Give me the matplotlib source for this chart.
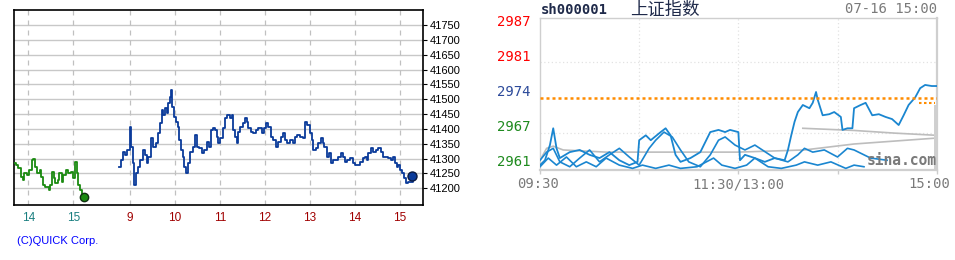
#!/usr/bin/env python3
"""
Two intraday panels: QUICK index chart (left) and sh000001 mini chart (right).
"""

import matplotlib
matplotlib.use("Agg")
import matplotlib.pyplot as plt
import matplotlib.transforms as mtransforms

# ---------------- left panel data (hours, index level) ----------------
PREV_SHIFT = 7.26  # previous-day hours are drawn shifted left of today's session

prev_hours = [13.69, 13.73, 13.78, 13.83, 13.88, 13.90, 13.96, 14.02, 14.08, 14.11,
              14.15, 14.20, 14.25, 14.28, 14.32, 14.37, 14.45, 14.48, 14.52, 14.56,
              14.59, 14.65, 14.69, 14.74, 14.78, 14.84, 14.89, 14.94, 14.99, 15.04,
              15.08, 15.11, 15.15, 15.19, 15.24]
prev_vals = [41284, 41278, 41267, 41239, 41228, 41250, 41245, 41262, 41295, 41298,
             41273, 41250, 41262, 41239, 41211, 41205, 41194, 41211, 41256, 41234,
             41217, 41228, 41250, 41222, 41245, 41262, 41250, 41256, 41234, 41290,
             41250, 41211, 41194, 41172, 41172]

today_hours = [8.763, 8.793, 8.837, 8.889, 8.941, 9.000, 9.022, 9.059, 9.096, 9.133,
               9.185, 9.222, 9.281, 9.333, 9.370, 9.407, 9.459, 9.519, 9.578, 9.630,
               9.667, 9.704, 9.741, 9.778, 9.815, 9.852, 9.889, 9.904, 9.941, 9.978,
               10.022, 10.059, 10.096, 10.133, 10.170, 10.207, 10.244, 10.281, 10.333, 10.393,
               10.444, 10.481, 10.541, 10.593, 10.644, 10.704, 10.763, 10.800, 10.852, 10.889,
               10.926, 10.963, 11.000, 11.059, 11.111, 11.148, 11.222, 11.259, 11.296, 11.333,
               11.370, 11.407, 11.444, 11.504, 11.556, 11.593, 11.630, 11.681, 11.741, 11.800,
               11.852, 11.926, 11.985, 12.022, 12.074, 12.126, 12.185, 12.244, 12.296, 12.348,
               12.393, 12.444, 12.496, 12.556, 12.615, 12.667, 12.719, 12.778, 12.837, 12.889,
               12.941, 13.000, 13.044, 13.074, 13.133, 13.185, 13.237, 13.281, 13.319, 13.370,
               13.430, 13.467, 13.519, 13.578, 13.630, 13.681, 13.726, 13.778, 13.830, 13.889,
               13.948, 14.000, 14.052, 14.111, 14.170, 14.222, 14.259, 14.296, 14.348, 14.407,
               14.467, 14.519, 14.570, 14.630, 14.689, 14.741, 14.793, 14.852, 14.889, 14.926,
               14.963, 15.000, 15.037, 15.089, 15.133, 15.185, 15.259, 15.281]
today_vals = [41273, 41295, 41323, 41312, 41329, 41408, 41340, 41284, 41211, 41250,
              41273, 41295, 41329, 41312, 41284, 41307, 41368, 41340, 41351, 41385,
              41419, 41464, 41447, 41469, 41452, 41486, 41509, 41531, 41475, 41441,
              41424, 41408, 41363, 41329, 41307, 41273, 41250, 41284, 41323, 41340,
              41379, 41340, 41335, 41318, 41329, 41357, 41340, 41396, 41402, 41396,
              41374, 41351, 41368, 41402, 41436, 41447, 41436, 41447, 41396, 41374,
              41351, 41391, 41408, 41419, 41436, 41424, 41402, 41391, 41385, 41396,
              41402, 41385, 41402, 41419, 41408, 41374, 41363, 41340, 41357, 41374,
              41385, 41363, 41351, 41363, 41351, 41374, 41379, 41374, 41368, 41424,
              41413, 41385, 41363, 41329, 41335, 41351, 41368, 41351, 41340, 41307,
              41318, 41284, 41295, 41295, 41307, 41318, 41307, 41290, 41295, 41301,
              41284, 41278, 41278, 41290, 41301, 41307, 41295, 41318, 41335, 41323,
              41329, 41335, 41323, 41307, 41307, 41301, 41295, 41307, 41284, 41273,
              41278, 41262, 41250, 41234, 41217, 41222, 41222, 41239]

left_yticks = [41200, 41250, 41300, 41350, 41400, 41450, 41500, 41550,
               41600, 41650, 41700, 41750]
prev_tick_hours = [14, 15]
today_tick_hours = [9, 10, 11, 12, 13, 14, 15]

# ---------------- right panel data (minutes after 09:30, index level) ----------------
line1_min = [0, 3, 6, 8, 10, 12, 18, 24, 30, 36, 42, 48, 54, 59, 60, 64, 67, 73, 76, 79,
             82, 85, 91, 97, 103, 108, 112, 115, 120, 121, 124, 130, 136, 142, 148, 150,
             152, 154, 156, 159, 163, 165, 167, 168, 171, 175, 178, 182, 183, 186, 189,
             190, 194, 197, 201, 205, 209, 213, 217, 220, 223, 227, 230, 233, 237, 240]
line1_val = [2961.5, 2962.4, 2965.2, 2968.3, 2964.6, 2962.8, 2963.9, 2964.3, 2963.4, 2962.8,
             2963.9, 2962.4, 2961.5, 2962.1, 2966.1, 2967.0, 2966.1, 2967.6, 2968.3, 2967.0,
             2963.4, 2962.1, 2962.8, 2963.9, 2967.6, 2968.0, 2967.6, 2968.0, 2967.6, 2962.4,
             2963.4, 2962.8, 2962.1, 2962.8, 2962.4, 2964.3, 2967.0, 2969.5, 2971.3, 2972.6,
             2972.0, 2973.0, 2975.0, 2973.6, 2970.7, 2970.9, 2971.3, 2970.4, 2968.0, 2968.3,
             2968.3, 2972.0, 2972.6, 2973.0, 2970.7, 2970.9, 2970.4, 2970.0, 2968.9, 2970.7,
             2972.6, 2974.0, 2975.7, 2976.3, 2976.1, 2976.1]

line2_min = [0, 4, 8, 12, 18, 24, 30, 36, 42, 48, 54, 60, 66, 70, 75, 80, 85, 90, 97, 103,
             108, 112, 118, 124, 130, 136, 142, 150, 156, 160, 165, 172, 180, 186, 190, 196,
             200, 210]
line2_val = [2962.4, 2963.9, 2964.6, 2962.1, 2961.2, 2962.8, 2964.3, 2962.1, 2963.4, 2964.6,
             2963.0, 2961.5, 2964.6, 2966.1, 2967.6, 2966.7, 2964.3, 2962.1, 2961.2, 2963.4,
             2966.1, 2966.7, 2965.2, 2964.3, 2965.2, 2964.0, 2962.8, 2962.1, 2963.4, 2964.6,
             2963.9, 2964.3, 2963.0, 2964.6, 2964.3, 2963.4, 2962.8, 2962.4]

line3_min = [0, 5, 10, 16, 22, 28, 34, 40, 48, 56, 62, 70, 78, 85, 95, 105, 110, 118, 125,
             130, 138, 146, 155, 160, 168, 176, 185, 190, 196]
line3_val = [2961.2, 2962.8, 2961.5, 2963.0, 2961.2, 2962.1, 2961.2, 2962.8, 2961.5, 2960.9,
             2961.5, 2960.9, 2961.5, 2960.9, 2961.2, 2962.8, 2961.5, 2960.9, 2961.5, 2962.8,
             2961.2, 2960.9, 2961.5, 2962.1, 2961.5, 2962.1, 2960.9, 2961.5, 2961.2]

gray1_min = [0, 4, 8, 14, 40, 120, 160, 190, 240]
gray1_val = [2962.4, 2964.6, 2965.0, 2964.3, 2963.9, 2963.9, 2964.3, 2965.4, 2966.5]
gray2_min = [159, 190, 215, 240]
gray2_val = [2968.3, 2967.9, 2967.4, 2967.0]

prev_close = 2973.9
right_levels = [2987.0, 2980.5, 2974.0, 2967.5, 2961.0]
right_labels = ["2987", "2981", "2974", "2967", "2961"]
right_label_colors = ["#ff0000", "#ff0000", "#2c4a9a", "#1e8a1e", "#1e8a1e"]
right_xticks = [0, 60, 120, 180, 240]


def main():
    W, H = 955, 260
    fig = plt.figure(figsize=(W / 100, H / 100), dpi=100)

    # ---------------- left panel ----------------
    ax = fig.add_axes([14 / W, (H - 205) / H, (423 - 14) / W, (205 - 10) / H])
    px = [h - PREV_SHIFT for h in prev_hours]

    for v in left_yticks:
        ax.axhline(v, color="#c8c8c8", lw=1.0, zorder=1)
    for h in prev_tick_hours:
        ax.axvline(h - PREV_SHIFT, color="#c0c0c0", lw=0.9, ls=(0, (4, 4)), zorder=1)
    for h in today_tick_hours:
        ax.axvline(h, color="#c0c0c0", lw=0.9, ls=(0, (4, 4)), zorder=1)

    ax.plot(px, prev_vals, color="#1a8a10", lw=1.3, drawstyle="steps-post", zorder=3)
    ax.plot(today_hours, today_vals, color="#0a3a9a", lw=1.3, drawstyle="steps-post", zorder=3)
    ax.plot(px[-1], prev_vals[-1], "o", ms=6, mfc="#1a8a10", mec="#103010", mew=1.0, zorder=4)
    ax.plot(15.267, 41242, "o", ms=6.5, mfc="#0a3a9a", mec="#0a1a40", mew=1.0, zorder=4)

    ax.set_xlim(6.422, 15.511)
    ax.set_ylim(41143.8, 41800.5)
    ax.yaxis.tick_right()
    ax.set_yticks(left_yticks, labels=[str(v) for v in left_yticks])
    ax.tick_params(axis="y", length=3, width=0.8, pad=2, labelsize=8)
    for t in ax.get_yticklabels():
        t.set_family("Liberation Sans")

    xt = [h - PREV_SHIFT for h in prev_tick_hours] + today_tick_hours
    ax.set_xticks(xt, labels=[str(h) for h in prev_tick_hours + today_tick_hours])
    ax.tick_params(axis="x", length=0, pad=5, labelsize=8.5)
    for i, t in enumerate(ax.get_xticklabels()):
        t.set_color("#1a7f80" if i < len(prev_tick_hours) else "#a00000")
        t.set_family("Liberation Sans")
    for s in ax.spines.values():
        s.set_color("black")
        s.set_linewidth(1.2)

    fig.text(17 / W, 1 - 241 / H, "(C)QUICK Corp.", color="#0000ff", fontsize=8,
             family="Liberation Sans", va="center", ha="left")

    # ---------------- right panel ----------------
    ax2 = fig.add_axes([540 / W, (H - 170) / H, 396.7 / W, 151.7 / H])
    for m in right_xticks[1:-1]:
        ax2.axvline(m, color="#e2e2e2", lw=0.9, ls=(0, (1, 2)), zorder=1)
    for v in [right_levels[1], right_levels[3]]:
        ax2.axhline(v, color="#e2e2e2", lw=0.9, ls=(0, (1, 2)), zorder=1)

    ax2.plot(gray1_min, gray1_val, color="#bdbdbd", lw=1.2, zorder=2)
    ax2.plot(gray2_min, gray2_val, color="#bdbdbd", lw=1.2, zorder=2)
    ax2.plot(line3_min, line3_val, color="#1a86d0", lw=1.2, zorder=3)
    ax2.plot(line2_min, line2_val, color="#1a86d0", lw=1.2, zorder=3)
    ax2.plot(line1_min, line1_val, color="#1a86d0", lw=1.3, zorder=3)
    ax2.axhline(prev_close, color="#ff8c00", lw=1.8, ls=(0, (1.2, 1.2)), zorder=4)
    ax2.plot([229, 239], [2973.0, 2973.0], color="#ff8c00", lw=1.5, ls=(0, (1.2, 1.2)), zorder=4)
    ax2.axvspan(238.3, 240, ymin=0.0, ymax=0.43, color="#d0d0d0", lw=0, zorder=2)

    ax2.text(219, 2962.3, "sina.com", color="#7a7a7a", fontsize=10.5, fontweight="bold",
             family="DejaVu Sans Mono", ha="center", va="center", zorder=5)

    ax2.set_xlim(0, 240)
    ax2.set_ylim(2960.6, 2988.6)
    ax2.set_yticks([])
    ax2.set_xticks(right_xticks, labels=[])
    ax2.tick_params(axis="x", length=3, color="#cccccc", width=1)
    for s in ax2.spines.values():
        s.set_color("#cfcfcf")
        s.set_linewidth(1.0)
    ax2.spines["bottom"].set_linewidth(1.6)
    ax2.spines["right"].set_linewidth(1.6)

    lab_tr = mtransforms.blended_transform_factory(ax2.transAxes, ax2.transData)
    for v, s, c in zip(right_levels, right_labels, right_label_colors):
        ax2.text(-0.025, v + 1.0, s, transform=lab_tr, color=c, fontsize=10,
                 family="DejaVu Sans Mono", ha="right", va="center")

    mono = dict(family="DejaVu Sans Mono", fontsize=10, color="#7a7a7a", va="center")
    fig.text(538.5 / W, 1 - 184.5 / H, "09:30", ha="center", **mono)
    fig.text(738 / W, 1 - 184.5 / H, "11:30/13:00", ha="center", **mono)
    fig.text(929 / W, 1 - 184.5 / H, "15:00", ha="center", **mono)
    fig.text(937 / W, 1 - 9 / H, "07-16 15:00", ha="right", **mono)

    fig.text(541 / W, 1 - 9.5 / H, "sh000001", color="#1f2a4a", fontsize=10,
             family="DejaVu Sans Mono", fontweight="bold", ha="left", va="center")
    fig.text(630 / W, 1 - 10 / H, "上证指数", color="#1f2a4a", fontsize=12.5,
             family=["Noto Sans CJK SC", "DejaVu Sans"], ha="left", va="center")

    fig.savefig("out.png", dpi=100)
    plt.close(fig)


if __name__ == "__main__":
    main()
